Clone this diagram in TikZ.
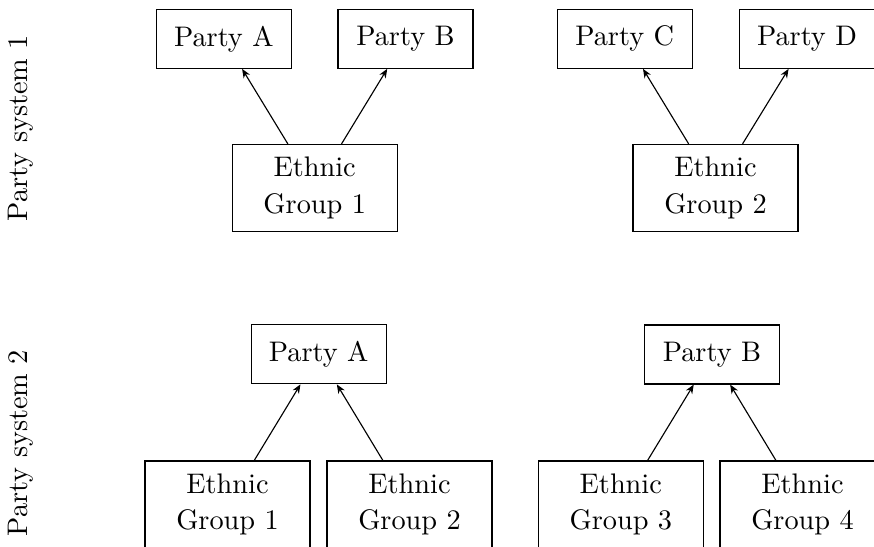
\documentclass[tikz,border=0pt]{standalone}
\usetikzlibrary{arrows.meta}
\begin{document}
\begin{tikzpicture}[x=0.3534pt,y=-0.3534pt,
  partybox/.style={draw,line width=0.4pt,minimum width=47.7pt,minimum height=20.85pt,inner sep=0pt},
  ethbox/.style={draw,line width=0.4pt,minimum width=58.3pt,minimum height=30.75pt,inner sep=0pt,align=center},
  sysl/.style={rotate=90,inner sep=0pt},
  link/.style={-{Stealth[length=3.2pt,width=2.6pt]},line width=0.4pt}]
\useasboundingbox (0,0) rectangle (874,547);
% Party system 1
\node[sysl] (s1) at (20.5,128) {Party system 1};
\node[partybox] (pa1) at (223.8,38.8) {Party A};
\node[partybox] (pb1) at (405.5,38.8) {Party B};
\node[partybox] (pc1) at (624.7,38.8) {Party C};
\node[partybox] (pd1) at (807,38.8) {Party D};
\node[ethbox] (e11) at (314.7,188) {Ethnic\\[1pt]Group 1};
\node[ethbox] (e12) at (715.5,188) {Ethnic\\[1pt]Group 2};
\draw[link] (e11) -- (pa1);
\draw[link] (e11) -- (pb1);
\draw[link] (e12) -- (pc1);
\draw[link] (e12) -- (pd1);
% Party system 2
\node[sysl] (s2) at (20.5,443) {Party system 2};
\node[partybox] (pa2) at (318.7,354.3) {Party A};
\node[partybox] (pb2) at (712,354.5) {Party B};
\node[ethbox] (e21) at (227.5,504.5) {Ethnic\\[1pt]Group 1};
\node[ethbox] (e22) at (409.5,504.5) {Ethnic\\[1pt]Group 2};
\node[ethbox] (e23) at (620.8,504.5) {Ethnic\\[1pt]Group 3};
\node[ethbox] (e24) at (802.5,504.5) {Ethnic\\[1pt]Group 4};
\draw[link] (e21) -- (pa2);
\draw[link] (e22) -- (pa2);
\draw[link] (e23) -- (pb2);
\draw[link] (e24) -- (pb2);
\end{tikzpicture}
\end{document}
